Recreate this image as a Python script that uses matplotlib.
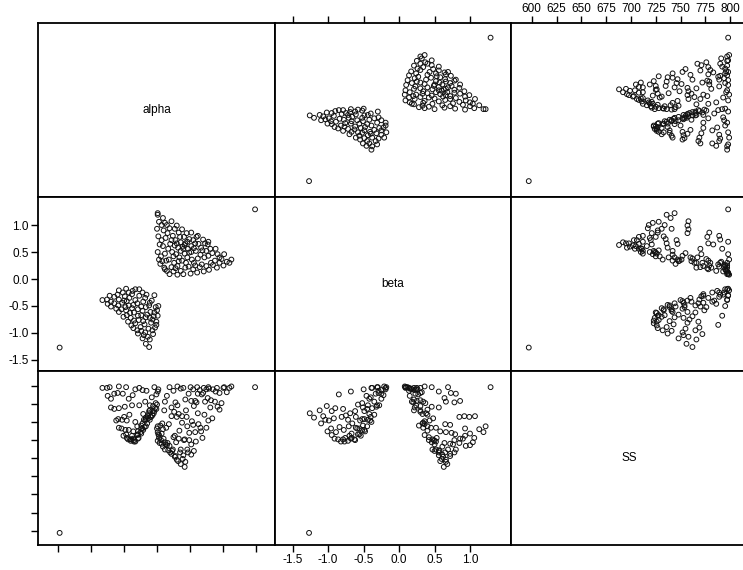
import matplotlib
matplotlib.use("Agg")
import matplotlib.pyplot as plt

plt.rcParams['font.family'] = ['Liberation Sans', 'DejaVu Sans']

var_names = ["alpha", "beta", "SS"]

alpha = [
    0.03, 0.01, 0.04, 0.02, 0.00, 0.03, 0.01, 0.01,
    0.11, 0.08, 0.12, 0.09, 0.13, 0.10, 0.12, 0.09,
    0.19, 0.22, 0.18, 0.23, 0.20, 0.24, 0.19, 0.22,
    0.31, 0.28, 0.33, 0.29, 0.32, 0.28, 0.33, 0.30,
    0.40, 0.43, 0.38, 0.42, 0.39, 0.43, 0.42, 0.41, 0.38,
    0.51, 0.48, 0.53, 0.49, 0.52, 0.49, 0.52,
    0.61, 0.58, 0.62, 0.59, 0.56, 0.63, 0.60,
    0.71, 0.68, 0.72, 0.69, 0.73,
    0.79, 0.82, 0.78, 0.81, 0.77,
    0.91, 0.88, 0.92, 0.89,
    1.01, 0.98, 1.02, 1.10, 1.13,
    0.78, 0.70, 0.62, 0.15, 0.05, 0.25, 0.36, 0.26, 0.46, 0.36,
    0.47, 0.36, 0.46, 0.27, 0.16, 0.07, 0.27, 0.55, 0.66, 0.84, 0.95, 0.55,
    0.06, 0.14, 0.17, 0.07, 0.15, 0.25, 0.34, 0.31, 0.44, 0.56,
    0.65, 0.75, 0.85, 0.67, 0.58, 0.45, 0.35, 0.22, 0.52, 0.75,
    0.95, 1.06, 0.40, 0.30, 0.12,
    -0.58, -0.47, -0.37, -0.27, -0.72, -0.60, -0.49, -0.38, -0.27, -0.16,
    -0.83, -0.70, -0.58, -0.46, -0.33, -0.21, -0.08,
    -0.70, -0.59, -0.48, -0.36, -0.24, -0.12, -0.02,
    -0.58, -0.47, -0.35, -0.22, -0.10, 0.00,
    -0.51, -0.40, -0.29, -0.17, -0.05,
    -0.44, -0.33, -0.21, -0.09, -0.01,
    -0.36, -0.25, -0.13, -0.03,
    -0.29, -0.18, -0.06, -0.22, -0.11, -0.17, -0.12,
    -0.65, -0.53, -0.42, -0.30, -0.18, -0.62, -0.41, -0.28, -0.15, -0.07,
    -0.30, -0.20, -0.43, -0.52, -0.33, -0.76, -0.04, 0.01, -0.01, 0.02,
    -0.65, -0.43, -0.22, -0.11, -0.54, -0.29, -0.17, -0.46, -0.35, -0.24,
    -0.11, -0.39, -0.19, -0.07, -0.24, -0.14, -0.50, -0.75, -0.38, -0.04,
    -1.48, 1.49,
]

beta = [
    0.36, 0.50, 0.64, 0.79, 0.93, 1.06, 1.19, 1.22,
    0.21, 0.33, 0.47, 0.61, 0.76, 0.90, 1.04, 1.13,
    0.09, 0.22, 0.36, 0.50, 0.65, 0.80, 0.94, 1.07,
    0.08, 0.20, 0.33, 0.46, 0.58, 0.72, 0.86, 0.99,
    0.09, 0.21, 0.34, 0.47, 0.60, 0.66, 0.63, 0.78, 0.92,
    0.10, 0.23, 0.36, 0.49, 0.61, 0.74, 0.86,
    0.12, 0.25, 0.38, 0.52, 0.57, 0.65, 0.78,
    0.14, 0.27, 0.40, 0.53, 0.66,
    0.17, 0.30, 0.43, 0.56, 0.64,
    0.21, 0.34, 0.46, 0.56,
    0.25, 0.37, 0.46, 0.30, 0.36,
    0.69, 0.73, 0.80, 0.15, 0.28, 0.14, 0.15, 0.30, 0.40, 0.52,
    0.56, 0.68, 0.69, 0.62, 0.85, 1.00, 0.93, 0.72, 0.45, 0.48, 0.30, 0.18,
    0.42, 0.34, 0.56, 0.72, 1.00, 0.42, 0.40, 0.24, 0.30, 0.30,
    0.22, 0.24, 0.26, 0.58, 0.66, 0.85, 0.78, 0.72, 0.50, 0.52,
    0.40, 0.32, 0.56, 0.66, 0.18,
    -0.21, -0.18, -0.22, -0.19, -0.31, -0.29, -0.32, -0.28, -0.31, -0.29,
    -0.39, -0.42, -0.38, -0.41, -0.39, -0.42, -0.40,
    -0.51, -0.49, -0.52, -0.48, -0.51, -0.49, -0.52,
    -0.61, -0.58, -0.62, -0.59, -0.61, -0.58,
    -0.70, -0.72, -0.68, -0.71, -0.69,
    -0.79, -0.82, -0.78, -0.81, -0.79,
    -0.91, -0.89, -0.92, -0.90,
    -1.01, -0.99, -1.02, -1.10, -1.12, -1.20, -1.26,
    -0.45, -0.44, -0.35, -0.45, -0.35, -0.55, -0.63, -0.76, -0.66, -0.75,
    -0.95, -1.04, -0.49, -0.25, -0.19, -0.38, -0.30, -0.68, -0.85, -0.50,
    -0.33, -0.25, -0.25, -0.44, -0.56, -0.56, -0.52, -0.67, -0.77, -0.67,
    -0.72, -0.86, -0.84, -0.95, -0.96, -1.07, -0.40, -0.46, -0.54, -0.62,
    -1.27, 1.29,
]

SS = [
    732, 724, 721, 733, 741, 728, 736, 744,
    766, 748, 712, 716, 719, 727, 722, 740,
    798, 770, 747, 710, 708, 712, 717, 758,
    799, 777, 761, 722, 696, 703, 727, 757,
    797, 781, 749, 726, 699, 695, 688, 725, 758,
    798, 789, 751, 725, 705, 735, 779,
    798, 779, 762, 723, 710, 747, 777,
    797, 788, 760, 728, 778,
    796, 780, 752, 770, 783,
    797, 778, 771, 792,
    797, 776, 798, 797, 799,
    798, 790, 789, 786, 745, 793, 796, 764, 744, 712,
    708, 692, 712, 702, 721, 734, 731, 746, 742, 755, 790, 795,
    725, 742, 711, 720, 718, 729, 738, 773, 766, 772,
    794, 795, 795, 737, 736, 757, 708, 706, 719, 742,
    767, 791, 704, 698, 778,
    799, 798, 787, 797, 798, 790, 771, 773, 773, 793,
    797, 782, 769, 752, 750, 761, 784,
    770, 754, 739, 737, 745, 765, 776,
    742, 733, 725, 741, 757, 774,
    731, 724, 727, 744, 762,
    726, 723, 739, 757, 768,
    727, 736, 755, 769,
    737, 752, 772, 748, 766, 756, 762,
    768, 753, 760, 744, 778, 752, 726, 728, 748, 759,
    732, 753, 739, 789, 795, 797, 798, 792, 788, 795,
    789, 782, 794, 773, 741, 733, 754, 728, 723, 734,
    753, 726, 743, 765, 741, 758, 757, 786, 731, 765,
    597, 798,
]

alpha_ticks = [-1.5, -1.0, -0.5, 0.0, 0.5, 1.0, 1.5]
beta_ticks = [-1.5, -1.0, -0.5, 0.0, 0.5, 1.0]
beta_tick_labels = ["-1.5", "-1.0", "-0.5", "0.0", "0.5", "1.0"]
ss_ticks = [600, 625, 650, 675, 700, 725, 750, 775, 800]
ss_tick_labels = ["600", "625", "650", "675", "700", "725", "750", "775", "800"]

data = [alpha, beta, SS]
xlims = [(-1.809, 1.793), (-1.75, 1.578), (579.1, 817.0)]
ylims = [(-1.809, 1.793), (-1.704, 1.519), (580.3, 820.3)]

W, H = 743, 570
xs = [38, 275, 511, 747]
ys = [23, 197, 371, 545]

fig = plt.figure(figsize=(W / 100, H / 100), dpi=100)
axes = [[None] * 3 for _ in range(3)]
for i in range(3):
    for j in range(3):
        ax = fig.add_axes([xs[j] / W, 1 - ys[i + 1] / H,
                           (xs[j + 1] - xs[j]) / W, (ys[i + 1] - ys[i]) / H])
        axes[i][j] = ax
        for sp in ax.spines.values():
            sp.set_linewidth(1.3)
            sp.set_color("black")
        ax.set_xticks([])
        ax.set_yticks([])
        ax.tick_params(direction="out", length=5, width=1, colors="black",
                       labelsize=8.5, pad=1.5)
        if i == j:
            ax.set_xlim(0, 1)
            ax.set_ylim(0, 1)
            ax.text(0.5, 0.5, var_names[i], ha="center", va="center",
                    fontsize=8.5, transform=ax.transAxes)
        else:
            ax.scatter(data[j], data[i], s=12, facecolors="none",
                       edgecolors="#111111", linewidths=0.7)
            ax.set_xlim(*xlims[j])
            ax.set_ylim(*ylims[i])

# tick decorations
ax = axes[2][0]
ax.set_xticks(alpha_ticks)
ax.set_xticklabels([])
ax.set_yticks(ss_ticks)
ax.set_yticklabels([])

ax = axes[2][1]
ax.set_xticks(beta_ticks)
ax.set_xticklabels(beta_tick_labels)

ax = axes[1][0]
ax.set_yticks(beta_ticks)
ax.set_yticklabels(beta_tick_labels)

ax = axes[0][1]
ax.xaxis.set_ticks_position("top")
ax.set_xticks(beta_ticks)
ax.set_xticklabels([])

ax = axes[0][2]
ax.xaxis.set_ticks_position("top")
ax.xaxis.set_label_position("top")
ax.set_xticks(ss_ticks)
ax.set_xticklabels(ss_tick_labels)
ax.tick_params(axis="x", labelsize=8.5, pad=1)

fig.savefig("out.png", dpi=100)
